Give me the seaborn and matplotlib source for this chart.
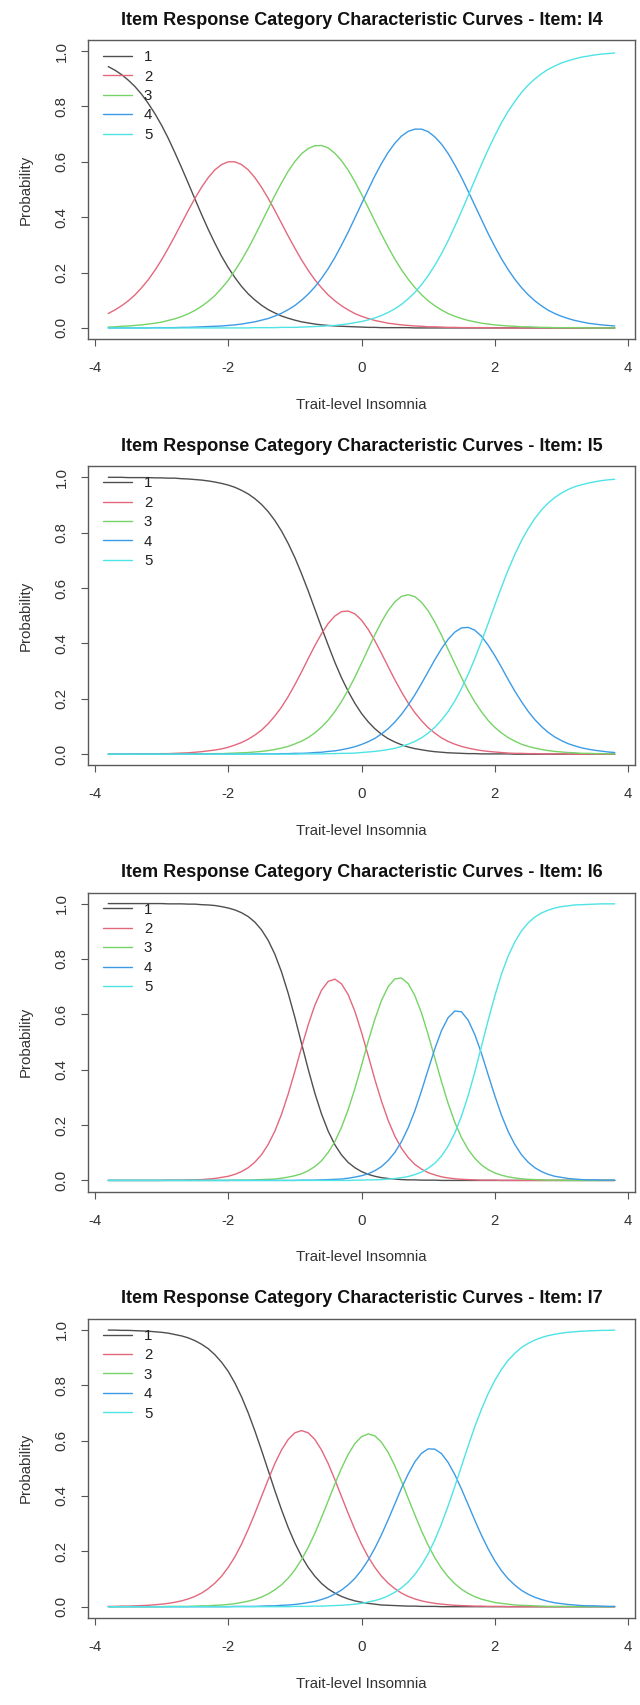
import numpy as np
import pandas as pd
import matplotlib
matplotlib.use("Agg")
import matplotlib.pyplot as plt
import seaborn as sns

# Trait levels at which the category curves were read (step 0.1)
THETA = np.round(np.linspace(-3.8, 3.8, 77), 1)

# Item I4
I4_CAT1 = [0.944, 0.931, 0.915, 0.895, 0.872, 0.844, 0.811, 0.774, 0.732, 0.685, 0.633,
           0.579, 0.523, 0.466, 0.410, 0.356, 0.306, 0.259, 0.218, 0.182, 0.150, 0.123,
           0.101, 0.082, 0.066, 0.054, 0.043, 0.035, 0.028, 0.022, 0.018, 0.014, 0.011,
           0.009, 0.007, 0.006, 0.005, 0.004, 0.003, 0.002, 0.002, 0.001, 0.001, 0.001,
           0.001, 0.001, 0, 0, 0, 0, 0, 0, 0, 0, 0,
           0, 0, 0, 0, 0, 0, 0, 0, 0, 0, 0,
           0, 0, 0, 0, 0, 0, 0, 0, 0, 0, 0]
I4_CAT2 = [0.052, 0.065, 0.080, 0.098, 0.119, 0.145, 0.174, 0.208, 0.246, 0.288, 0.332,
           0.378, 0.424, 0.468, 0.508, 0.543, 0.571, 0.590, 0.600, 0.600, 0.590, 0.571,
           0.543, 0.508, 0.468, 0.424, 0.378, 0.332, 0.288, 0.246, 0.208, 0.174, 0.145,
           0.119, 0.098, 0.080, 0.065, 0.052, 0.042, 0.034, 0.027, 0.022, 0.017, 0.014,
           0.011, 0.009, 0.007, 0.006, 0.004, 0.004, 0.003, 0.002, 0.002, 0.001, 0.001,
           0.001, 0.001, 0.001, 0, 0, 0, 0, 0, 0, 0, 0,
           0, 0, 0, 0, 0, 0, 0, 0, 0, 0, 0]
I4_CAT3 = [0.003, 0.004, 0.006, 0.007, 0.009, 0.011, 0.014, 0.017, 0.021, 0.027, 0.033,
           0.041, 0.051, 0.063, 0.078, 0.096, 0.117, 0.143, 0.172, 0.207, 0.245, 0.287,
           0.333, 0.381, 0.430, 0.479, 0.524, 0.566, 0.601, 0.629, 0.648, 0.658, 0.659,
           0.650, 0.631, 0.604, 0.570, 0.529, 0.483, 0.435, 0.386, 0.338, 0.292, 0.249,
           0.210, 0.176, 0.146, 0.120, 0.098, 0.080, 0.065, 0.052, 0.042, 0.034, 0.027,
           0.022, 0.017, 0.014, 0.011, 0.009, 0.007, 0.006, 0.004, 0.004, 0.003, 0.002,
           0.002, 0.001, 0.001, 0.001, 0.001, 0.001, 0, 0, 0, 0, 0]
I4_CAT4 = [0, 0, 0, 0, 0, 0, 0, 0.001, 0.001, 0.001, 0.001,
           0.002, 0.002, 0.003, 0.004, 0.005, 0.006, 0.007, 0.009, 0.011, 0.014, 0.018,
           0.022, 0.028, 0.034, 0.043, 0.053, 0.066, 0.081, 0.100, 0.122, 0.148, 0.179,
           0.214, 0.254, 0.299, 0.346, 0.397, 0.448, 0.499, 0.549, 0.594, 0.634, 0.667,
           0.693, 0.710, 0.718, 0.718, 0.709, 0.690, 0.664, 0.630, 0.589, 0.544, 0.494,
           0.443, 0.392, 0.341, 0.294, 0.250, 0.211, 0.176, 0.146, 0.120, 0.098, 0.080,
           0.064, 0.052, 0.042, 0.034, 0.027, 0.022, 0.017, 0.014, 0.011, 0.009, 0.007]
I4_CAT5 = [0, 0, 0, 0, 0, 0, 0, 0, 0, 0, 0,
           0, 0, 0, 0, 0, 0, 0, 0, 0, 0, 0,
           0.001, 0.001, 0.001, 0.001, 0.002, 0.002, 0.002, 0.003, 0.004, 0.005, 0.006,
           0.008, 0.009, 0.012, 0.015, 0.019, 0.023, 0.029, 0.036, 0.045, 0.056, 0.069,
           0.085, 0.105, 0.128, 0.156, 0.189, 0.226, 0.268, 0.315, 0.367, 0.421, 0.477,
           0.534, 0.590, 0.644, 0.694, 0.741, 0.782, 0.818, 0.850, 0.877, 0.899, 0.918,
           0.934, 0.946, 0.957, 0.965, 0.972, 0.978, 0.982, 0.986, 0.989, 0.991, 0.993]

# Item I5
I5_CAT1 = [1.0, 1.0, 1.0, 0.999, 0.999, 0.999, 0.999, 0.998, 0.998, 0.997, 0.997,
           0.995, 0.994, 0.992, 0.990, 0.987, 0.983, 0.978, 0.972, 0.964, 0.953, 0.940,
           0.923, 0.902, 0.876, 0.844, 0.806, 0.761, 0.710, 0.652, 0.590, 0.524, 0.458,
           0.394, 0.332, 0.276, 0.227, 0.184, 0.147, 0.117, 0.092, 0.072, 0.056, 0.044,
           0.034, 0.026, 0.020, 0.016, 0.012, 0.009, 0.007, 0.005, 0.004, 0.003, 0.002,
           0.002, 0.001, 0.001, 0.001, 0.001, 0.001, 0, 0, 0, 0, 0,
           0, 0, 0, 0, 0, 0, 0, 0, 0, 0, 0]
I5_CAT2 = [0, 0, 0, 0, 0.001, 0.001, 0.001, 0.001, 0.002, 0.002, 0.003,
           0.004, 0.005, 0.007, 0.009, 0.012, 0.015, 0.019, 0.025, 0.033, 0.042, 0.054,
           0.069, 0.087, 0.110, 0.138, 0.170, 0.208, 0.251, 0.297, 0.345, 0.392, 0.435,
           0.472, 0.499, 0.515, 0.517, 0.507, 0.484, 0.451, 0.410, 0.364, 0.316, 0.269,
           0.225, 0.185, 0.150, 0.121, 0.096, 0.076, 0.059, 0.046, 0.036, 0.028, 0.022,
           0.017, 0.013, 0.010, 0.008, 0.006, 0.004, 0.003, 0.003, 0.002, 0.002, 0.001,
           0.001, 0.001, 0.001, 0, 0, 0, 0, 0, 0, 0, 0]
I5_CAT3 = [0, 0, 0, 0, 0, 0, 0, 0, 0, 0, 0,
           0, 0.001, 0.001, 0.001, 0.001, 0.002, 0.002, 0.003, 0.004, 0.005, 0.006,
           0.008, 0.010, 0.013, 0.017, 0.022, 0.028, 0.037, 0.047, 0.060, 0.077, 0.098,
           0.123, 0.154, 0.190, 0.232, 0.278, 0.328, 0.380, 0.431, 0.478, 0.519, 0.550,
           0.570, 0.576, 0.569, 0.549, 0.518, 0.477, 0.430, 0.378, 0.327, 0.277, 0.230,
           0.189, 0.153, 0.122, 0.097, 0.077, 0.060, 0.047, 0.036, 0.028, 0.022, 0.017,
           0.013, 0.010, 0.008, 0.006, 0.005, 0.003, 0.003, 0.002, 0.002, 0.001, 0.001]
I5_CAT4 = [0, 0, 0, 0, 0, 0, 0, 0, 0, 0, 0,
           0, 0, 0, 0, 0, 0, 0, 0, 0, 0, 0,
           0.001, 0.001, 0.001, 0.001, 0.002, 0.002, 0.003, 0.003, 0.004, 0.006, 0.007,
           0.010, 0.012, 0.016, 0.021, 0.027, 0.035, 0.045, 0.057, 0.073, 0.092, 0.116,
           0.144, 0.177, 0.214, 0.255, 0.298, 0.341, 0.381, 0.415, 0.441, 0.456, 0.458,
           0.448, 0.426, 0.394, 0.356, 0.314, 0.270, 0.228, 0.190, 0.155, 0.125, 0.100,
           0.079, 0.062, 0.049, 0.038, 0.030, 0.023, 0.018, 0.014, 0.011, 0.008, 0.006]
I5_CAT5 = [0, 0, 0, 0, 0, 0, 0, 0, 0, 0, 0,
           0, 0, 0, 0, 0, 0, 0, 0, 0, 0, 0,
           0, 0, 0, 0, 0, 0, 0, 0.001, 0.001, 0.001, 0.001,
           0.002, 0.002, 0.003, 0.003, 0.004, 0.006, 0.008, 0.010, 0.013, 0.017, 0.021,
           0.028, 0.036, 0.046, 0.059, 0.076, 0.097, 0.123, 0.154, 0.192, 0.237, 0.288,
           0.345, 0.407, 0.472, 0.538, 0.603, 0.665, 0.721, 0.771, 0.814, 0.851, 0.882,
           0.907, 0.927, 0.943, 0.956, 0.966, 0.973, 0.979, 0.984, 0.988, 0.991, 0.993]

# Item I6
I6_CAT1 = [1.0, 1.0, 1.0, 1.0, 1.0, 1.0, 1.0, 1.0, 1.0, 0.999, 0.999,
           0.999, 0.998, 0.998, 0.996, 0.995, 0.993, 0.989, 0.984, 0.977, 0.967, 0.953,
           0.933, 0.905, 0.867, 0.817, 0.753, 0.676, 0.589, 0.495, 0.402, 0.315, 0.240,
           0.178, 0.129, 0.092, 0.065, 0.046, 0.032, 0.022, 0.015, 0.010, 0.007, 0.005,
           0.003, 0.002, 0.002, 0.001, 0.001, 0.001, 0, 0, 0, 0, 0,
           0, 0, 0, 0, 0, 0, 0, 0, 0, 0, 0,
           0, 0, 0, 0, 0, 0, 0, 0, 0, 0, 0]
I6_CAT2 = [0, 0, 0, 0, 0, 0, 0, 0, 0, 0.001, 0.001,
           0.001, 0.002, 0.002, 0.003, 0.005, 0.007, 0.011, 0.015, 0.022, 0.032, 0.046,
           0.066, 0.093, 0.130, 0.178, 0.239, 0.312, 0.394, 0.480, 0.562, 0.633, 0.687,
           0.719, 0.727, 0.710, 0.671, 0.611, 0.535, 0.451, 0.365, 0.286, 0.217, 0.160,
           0.116, 0.083, 0.058, 0.041, 0.028, 0.020, 0.013, 0.009, 0.006, 0.004, 0.003,
           0.002, 0.001, 0.001, 0.001, 0, 0, 0, 0, 0, 0, 0,
           0, 0, 0, 0, 0, 0, 0, 0, 0, 0, 0]
I6_CAT3 = [0, 0, 0, 0, 0, 0, 0, 0, 0, 0, 0,
           0, 0, 0, 0, 0, 0, 0, 0, 0.001, 0.001, 0.001,
           0.002, 0.003, 0.004, 0.005, 0.008, 0.012, 0.017, 0.024, 0.035, 0.050, 0.071,
           0.101, 0.140, 0.192, 0.256, 0.331, 0.415, 0.502, 0.582, 0.650, 0.700, 0.728,
           0.731, 0.711, 0.668, 0.605, 0.527, 0.442, 0.357, 0.278, 0.210, 0.155, 0.112,
           0.080, 0.056, 0.039, 0.027, 0.019, 0.013, 0.009, 0.006, 0.004, 0.003, 0.002,
           0.001, 0.001, 0.001, 0, 0, 0, 0, 0, 0, 0, 0]
I6_CAT4 = [0, 0, 0, 0, 0, 0, 0, 0, 0, 0, 0,
           0, 0, 0, 0, 0, 0, 0, 0, 0, 0, 0,
           0, 0, 0, 0, 0, 0, 0, 0.001, 0.001, 0.001, 0.002,
           0.003, 0.004, 0.005, 0.008, 0.012, 0.017, 0.024, 0.035, 0.050, 0.072, 0.101,
           0.140, 0.190, 0.251, 0.323, 0.400, 0.475, 0.541, 0.588, 0.612, 0.609, 0.579,
           0.527, 0.459, 0.382, 0.306, 0.236, 0.177, 0.130, 0.093, 0.066, 0.046, 0.032,
           0.022, 0.015, 0.011, 0.007, 0.005, 0.003, 0.002, 0.002, 0.001, 0.001, 0.001]
I6_CAT5 = [0, 0, 0, 0, 0, 0, 0, 0, 0, 0, 0,
           0, 0, 0, 0, 0, 0, 0, 0, 0, 0, 0,
           0, 0, 0, 0, 0, 0, 0, 0, 0, 0, 0,
           0, 0, 0, 0, 0.001, 0.001, 0.002, 0.002, 0.003, 0.005, 0.007,
           0.010, 0.014, 0.021, 0.030, 0.044, 0.062, 0.088, 0.124, 0.171, 0.232, 0.306,
           0.391, 0.484, 0.578, 0.666, 0.745, 0.810, 0.861, 0.901, 0.930, 0.951, 0.966,
           0.976, 0.984, 0.989, 0.992, 0.995, 0.996, 0.997, 0.998, 0.999, 0.999, 0.999]

# Item I7
I7_CAT1 = [0.999, 0.999, 0.998, 0.998, 0.997, 0.996, 0.995, 0.993, 0.991, 0.988, 0.983,
           0.978, 0.971, 0.961, 0.948, 0.932, 0.910, 0.883, 0.850, 0.808, 0.758, 0.700,
           0.635, 0.565, 0.492, 0.419, 0.350, 0.286, 0.230, 0.182, 0.142, 0.110, 0.084,
           0.064, 0.049, 0.037, 0.028, 0.021, 0.016, 0.012, 0.009, 0.006, 0.005, 0.004,
           0.003, 0.002, 0.002, 0.001, 0.001, 0.001, 0, 0, 0, 0, 0,
           0, 0, 0, 0, 0, 0, 0, 0, 0, 0, 0,
           0, 0, 0, 0, 0, 0, 0, 0, 0, 0, 0]
I7_CAT2 = [0.001, 0.001, 0.002, 0.002, 0.003, 0.004, 0.005, 0.007, 0.009, 0.012, 0.016,
           0.021, 0.028, 0.037, 0.049, 0.065, 0.085, 0.110, 0.142, 0.180, 0.226, 0.279,
           0.337, 0.398, 0.459, 0.517, 0.566, 0.604, 0.628, 0.636, 0.628, 0.604, 0.566,
           0.517, 0.459, 0.398, 0.337, 0.279, 0.226, 0.180, 0.142, 0.110, 0.085, 0.065,
           0.049, 0.037, 0.028, 0.021, 0.016, 0.012, 0.009, 0.007, 0.005, 0.004, 0.003,
           0.002, 0.002, 0.001, 0.001, 0.001, 0, 0, 0, 0, 0, 0,
           0, 0, 0, 0, 0, 0, 0, 0, 0, 0, 0]
I7_CAT3 = [0, 0, 0, 0, 0, 0, 0, 0, 0, 0.001, 0.001,
           0.001, 0.001, 0.002, 0.003, 0.003, 0.005, 0.006, 0.008, 0.011, 0.015, 0.020,
           0.026, 0.035, 0.046, 0.061, 0.079, 0.103, 0.133, 0.170, 0.214, 0.265, 0.322,
           0.382, 0.443, 0.500, 0.550, 0.589, 0.614, 0.624, 0.617, 0.594, 0.557, 0.509,
           0.453, 0.392, 0.332, 0.274, 0.222, 0.177, 0.139, 0.108, 0.083, 0.063, 0.048,
           0.036, 0.027, 0.021, 0.015, 0.012, 0.009, 0.006, 0.005, 0.004, 0.003, 0.002,
           0.001, 0.001, 0.001, 0.001, 0, 0, 0, 0, 0, 0, 0]
I7_CAT4 = [0, 0, 0, 0, 0, 0, 0, 0, 0, 0, 0,
           0, 0, 0, 0, 0, 0, 0, 0, 0.001, 0.001, 0.001,
           0.001, 0.002, 0.003, 0.003, 0.005, 0.006, 0.008, 0.011, 0.015, 0.019, 0.026,
           0.034, 0.046, 0.060, 0.079, 0.102, 0.132, 0.168, 0.211, 0.260, 0.314, 0.371,
           0.428, 0.479, 0.523, 0.554, 0.570, 0.569, 0.553, 0.521, 0.477, 0.425, 0.369,
           0.312, 0.258, 0.209, 0.166, 0.130, 0.101, 0.078, 0.059, 0.045, 0.034, 0.026,
           0.019, 0.014, 0.011, 0.008, 0.006, 0.004, 0.003, 0.003, 0.002, 0.001, 0.001]
I7_CAT5 = [0, 0, 0, 0, 0, 0, 0, 0, 0, 0, 0,
           0, 0, 0, 0, 0, 0, 0, 0, 0, 0, 0,
           0, 0, 0, 0, 0, 0, 0.001, 0.001, 0.001, 0.002, 0.002,
           0.003, 0.004, 0.005, 0.007, 0.009, 0.012, 0.017, 0.022, 0.029, 0.039, 0.052,
           0.068, 0.089, 0.116, 0.150, 0.191, 0.241, 0.299, 0.364, 0.434, 0.507, 0.580,
           0.650, 0.713, 0.769, 0.817, 0.857, 0.890, 0.915, 0.936, 0.951, 0.963, 0.972,
           0.979, 0.984, 0.988, 0.991, 0.993, 0.995, 0.996, 0.997, 0.998, 0.998, 0.999]

ITEMS = ["I4", "I5", "I6", "I7"]
CURVES = {
    "I4": [I4_CAT1, I4_CAT2, I4_CAT3, I4_CAT4, I4_CAT5],
    "I5": [I5_CAT1, I5_CAT2, I5_CAT3, I5_CAT4, I5_CAT5],
    "I6": [I6_CAT1, I6_CAT2, I6_CAT3, I6_CAT4, I6_CAT5],
    "I7": [I7_CAT1, I7_CAT2, I7_CAT3, I7_CAT4, I7_CAT5],
}
CATEGORIES = ["1", "2", "3", "4", "5"]
COLORS = ["#4f4f4f", "#E3687C", "#76D366", "#3D9BE6", "#4FE3E6"]

sns.set_theme(style="ticks")
plt.rcParams["font.family"] = ["Liberation Sans", "DejaVu Sans"]

fig = plt.figure(figsize=(6.4, 17.05), dpi=100)
H = 1705.0
PANEL = 426.25

for i, item in enumerate(ITEMS):
    bot = i * PANEL + 339
    ax = fig.add_axes([88 / 640, 1 - bot / H, 547 / 640, 299 / H])

    df = pd.concat([
        pd.DataFrame({"theta": THETA, "prob": vals, "cat": cat})
        for cat, vals in zip(CATEGORIES, CURVES[item])
    ])
    sns.lineplot(data=df, x="theta", y="prob", hue="cat", hue_order=CATEGORIES,
                 palette=COLORS, ax=ax, legend=False, errorbar=None, sort=False,
                 linewidth=1.0)

    ax.set_xlim(-4.104, 4.104)
    ax.set_ylim(-0.04, 1.04)
    ax.set_xticks([-4, -2, 0, 2, 4])
    ax.set_xticklabels(["-4", "-2", "0", "2", "4"])
    ax.set_yticks([0, 0.2, 0.4, 0.6, 0.8, 1.0])
    ax.set_yticklabels(["0.0", "0.2", "0.4", "0.6", "0.8", "1.0"], rotation=90, va="center")
    ax.tick_params(axis="both", direction="out", length=5, width=0.8, colors="#555555",
                   labelsize=10.8, labelcolor="#333333")
    ax.tick_params(axis="x", pad=11)
    ax.tick_params(axis="y", pad=9)
    for s in ax.spines.values():
        s.set_visible(True)
        s.set_color("#5a5a5a")
        s.set_linewidth(1.0)

    ax.set_title(f"Item Response Category Characteristic Curves - Item: {item}",
                 fontsize=13, fontweight="bold", pad=11, color="#111111")
    ax.set_xlabel("Trait-level Insomnia", fontsize=10.8, color="#333333")
    ax.set_ylabel("Probability", fontsize=10.8, color="#333333")
    ax.xaxis.set_label_coords(0.5, -0.197)
    ax.yaxis.set_label_coords(-0.101, 0.5)

    leg = ax.legend(ax.lines, CATEGORIES, loc="upper left",
                    bbox_to_anchor=(0.0274, 0.966), frameon=False, fontsize=10.8,
                    handlelength=1.93, handletextpad=0.8, labelspacing=0.36,
                    borderpad=0, borderaxespad=0)
    for t in leg.get_texts():
        t.set_color("#222222")

fig.savefig("out.png", dpi=100)
